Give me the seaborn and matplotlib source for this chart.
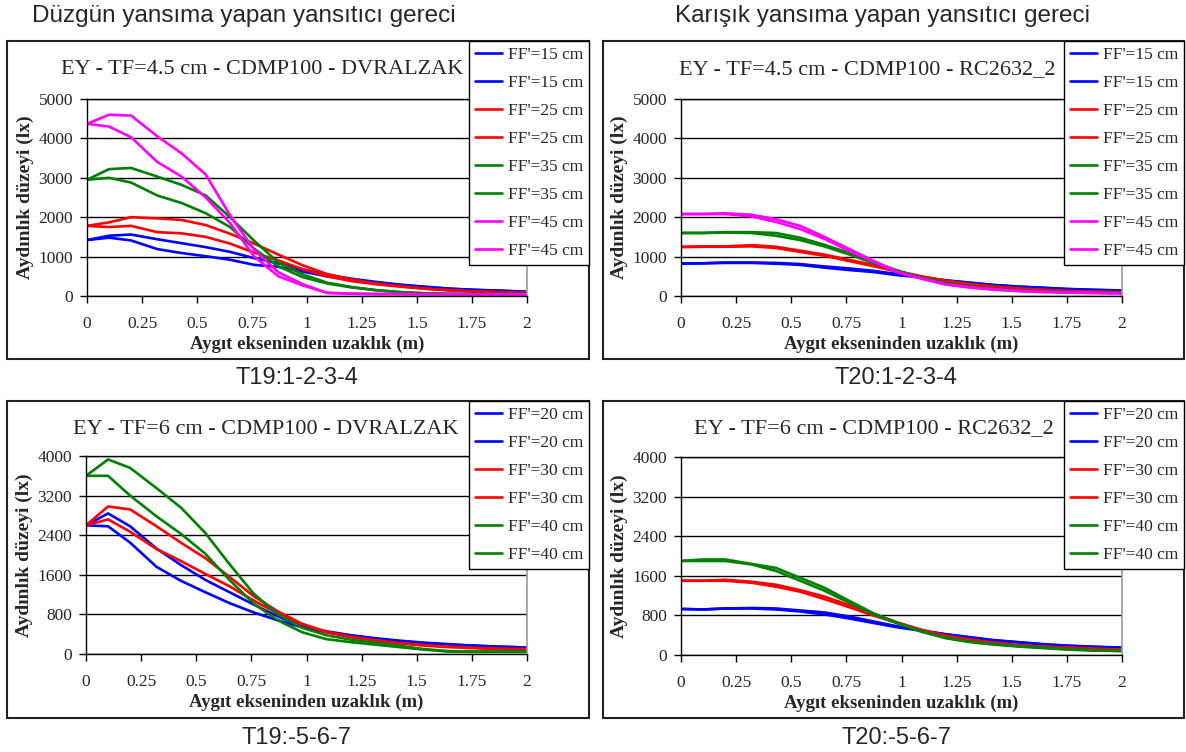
import matplotlib
matplotlib.use("Agg")
import matplotlib.pyplot as plt
import seaborn as sns
import pandas as pd
from matplotlib.patches import Rectangle

# ---------------- data ----------------
x = [0, 0.1, 0.2, 0.32, 0.43, 0.54, 0.65, 0.76, 0.87, 0.98, 1.09, 1.2, 1.31, 1.42, 1.53, 1.64, 1.75, 1.86, 2.0]

# Panel 1: EY - TF=4.5 cm - CDMP100 - DVRALZAK
p1_labels = ["FF'=15 cm", "FF'=15 cm", "FF'=25 cm", "FF'=25 cm",
             "FF'=35 cm", "FF'=35 cm", "FF'=45 cm", "FF'=45 cm"]
p1_b1 = [1420, 1530, 1560, 1440, 1340, 1240, 1120, 960, 830, 680, 540, 440, 360, 290, 240, 190, 160, 140, 110]
p1_b2 = [1420, 1480, 1410, 1190, 1090, 1010, 920, 790, 740, 620, 500, 410, 340, 280, 230, 185, 155, 135, 105]
p1_r1 = [1780, 1870, 2000, 1970, 1930, 1800, 1580, 1330, 1050, 780, 560, 420, 320, 250, 190, 150, 120, 100, 80]
p1_r2 = [1780, 1750, 1780, 1620, 1590, 1500, 1330, 1100, 900, 680, 500, 380, 300, 240, 185, 145, 115, 95, 75]
p1_g1 = [2950, 3220, 3250, 3030, 2820, 2550, 2000, 1400, 850, 550, 340, 230, 150, 100, 70, 55, 50, 50, 50]
p1_g2 = [2950, 3000, 2880, 2550, 2360, 2100, 1750, 1200, 750, 480, 320, 220, 150, 100, 70, 55, 50, 50, 50]
p1_m1 = [4370, 4600, 4580, 4050, 3620, 3080, 2050, 1170, 600, 300, 80, 60, 50, 50, 45, 45, 40, 40, 40]
p1_m2 = [4370, 4300, 4030, 3400, 3030, 2500, 1850, 1000, 500, 270, 80, 60, 50, 50, 45, 45, 40, 40, 40]

# Panel 2: EY - TF=4.5 cm - CDMP100 - RC2632_2
p2_labels = p1_labels
p2_b1 = [830, 830, 850, 850, 840, 810, 750, 700, 640, 560, 480, 400, 340, 280, 240, 210, 180, 160, 140]
p2_b2 = [820, 830, 840, 840, 820, 790, 720, 660, 610, 530, 470, 390, 330, 275, 235, 205, 175, 155, 135]
p2_r1 = [1250, 1260, 1260, 1290, 1250, 1150, 1050, 920, 790, 630, 500, 390, 300, 240, 190, 160, 130, 110, 100]
p2_r2 = [1240, 1250, 1250, 1260, 1220, 1120, 1020, 890, 760, 620, 490, 380, 295, 235, 185, 155, 125, 105, 95]
p2_g1 = [1600, 1600, 1620, 1620, 1600, 1480, 1300, 1100, 870, 650, 470, 330, 240, 180, 140, 120, 100, 90, 80]
p2_g2 = [1600, 1600, 1610, 1600, 1530, 1420, 1260, 1060, 840, 640, 460, 320, 235, 175, 135, 115, 95, 85, 75]
p2_m1 = [2080, 2080, 2100, 2060, 1950, 1780, 1500, 1200, 900, 620, 450, 300, 220, 170, 130, 110, 90, 80, 70]
p2_m2 = [2080, 2080, 2080, 2020, 1880, 1700, 1450, 1150, 880, 600, 440, 290, 215, 160, 125, 100, 85, 75, 65]

# Panel 3: EY - TF=6 cm - CDMP100 - DVRALZAK
p3_labels = ["FF'=20 cm", "FF'=20 cm", "FF'=30 cm", "FF'=30 cm", "FF'=40 cm", "FF'=40 cm"]
p3_b1 = [2600, 2840, 2580, 2130, 1800, 1500, 1250, 1000, 760, 560, 460, 380, 320, 270, 230, 200, 170, 150, 130]
p3_b2 = [2600, 2580, 2250, 1760, 1480, 1250, 1030, 840, 680, 540, 440, 370, 310, 260, 220, 190, 170, 150, 130]
p3_r1 = [2600, 2980, 2920, 2580, 2250, 1940, 1560, 1170, 860, 610, 450, 350, 280, 220, 170, 140, 120, 100, 80]
p3_r2 = [2600, 2720, 2470, 2120, 1880, 1620, 1370, 1080, 820, 600, 440, 340, 270, 220, 180, 150, 130, 110, 100]
p3_g1 = [3600, 3930, 3760, 3350, 2960, 2450, 1820, 1220, 800, 530, 380, 290, 230, 170, 100, 60, 50, 50, 50]
p3_g2 = [3600, 3600, 3200, 2780, 2430, 2030, 1500, 1020, 680, 440, 300, 240, 190, 140, 90, 50, 45, 45, 45]

# Panel 4: EY - TF=6 cm - CDMP100 - RC2632_2
p4_labels = p3_labels
p4_b1 = [930, 920, 940, 950, 940, 900, 860, 780, 680, 580, 500, 420, 360, 300, 260, 220, 190, 170, 150]
p4_b2 = [930, 920, 940, 940, 920, 880, 820, 740, 650, 560, 490, 415, 355, 295, 255, 215, 185, 165, 145]
p4_r1 = [1500, 1500, 1520, 1480, 1420, 1310, 1180, 1010, 830, 660, 510, 390, 310, 250, 200, 170, 150, 130, 110]
p4_r2 = [1500, 1500, 1500, 1460, 1380, 1280, 1130, 970, 800, 650, 500, 385, 305, 245, 195, 165, 145, 125, 105]
p4_g1 = [1900, 1930, 1930, 1840, 1760, 1560, 1360, 1100, 850, 650, 480, 350, 270, 220, 180, 150, 120, 100, 80]
p4_g2 = [1900, 1900, 1900, 1830, 1700, 1500, 1300, 1060, 830, 640, 470, 340, 260, 210, 170, 140, 110, 90, 80]

x_ticks = [0, 0.25, 0.5, 0.75, 1, 1.25, 1.5, 1.75, 2]
x_tick_labels = ["0", "0.25", "0.5", "0.75", "1", "1.25", "1.5", "1.75", "2"]
y_ticks_top = [0, 1000, 2000, 3000, 4000, 5000]
y_ticks_bot = [0, 800, 1600, 2400, 3200, 4000]

titles = ["EY - TF=4.5 cm - CDMP100 - DVRALZAK", "EY - TF=4.5 cm - CDMP100 - RC2632_2",
          "EY - TF=6 cm - CDMP100 - DVRALZAK", "EY - TF=6 cm - CDMP100 - RC2632_2"]
footers = ["T19:1-2-3-4", "T20:1-2-3-4", "T19:-5-6-7", "T20:-5-6-7"]
headers = ["Düzgün yansıma yapan yansıtıcı gereci", "Karışık yansıma yapan yansıtıcı gereci"]
xlabel = "Aygıt ekseninden uzaklık (m)"
ylabel = "Aydınlık düzeyi (lx)"

BLUE, RED, GREEN, MAG = "#0000FF", "#FF0000", "#008000", "#FF00FF"

panels = [
    (p1_labels, [p1_b1, p1_b2, p1_r1, p1_r2, p1_g1, p1_g2, p1_m1, p1_m2],
     [BLUE, BLUE, RED, RED, GREEN, GREEN, MAG, MAG], y_ticks_top),
    (p2_labels, [p2_b1, p2_b2, p2_r1, p2_r2, p2_g1, p2_g2, p2_m1, p2_m2],
     [BLUE, BLUE, RED, RED, GREEN, GREEN, MAG, MAG], y_ticks_top),
    (p3_labels, [p3_b1, p3_b2, p3_r1, p3_r2, p3_g1, p3_g2],
     [BLUE, BLUE, RED, RED, GREEN, GREEN], y_ticks_bot),
    (p4_labels, [p4_b1, p4_b2, p4_r1, p4_r2, p4_g1, p4_g2],
     [BLUE, BLUE, RED, RED, GREEN, GREEN], y_ticks_bot),
]

# ---------------- layout ----------------
W, H = 1186, 752
sns.set_theme(style="white")
plt.rcParams['font.family'] = ['Liberation Serif', 'DejaVu Serif']
fig = plt.figure(figsize=(W / 100, H / 100), dpi=100)
fig.patch.set_facecolor("white")

def fx(px):
    return px / W

def fy(py):
    return 1 - py / H

# axes rectangles in pixel coords (left, right, top, bottom)
ax_px = [(87, 527, 99, 296), (681, 1122, 99, 296), (86, 527, 456, 654), (681, 1122, 457, 655)]
box_px = [(7, 589, 41, 359), (603, 1184, 41, 359), (7, 589, 401, 718), (603, 1184, 401, 718)]
title_px = [(262, 70), (867, 70), (266, 429), (874, 429)]
footer_px = [(297, 378), (896, 378), (297, 738), (896, 738)]

for i, (labels, series, colors, yt) in enumerate(panels):
    bl, br, bt, bb = box_px[i]
    fig.add_artist(Rectangle((fx(bl), fy(bb)), fx(br - bl), (bb - bt) / H,
                             transform=fig.transFigure, fill=False,
                             edgecolor="#222222", linewidth=1.5, zorder=0))
    l, r, t, b = ax_px[i]
    ax = fig.add_axes([fx(l), fy(b), fx(r - l), (b - t) / H])
    for lab, ys, c in zip(labels, series, colors):
        df = pd.DataFrame({"x": x, "y": ys})
        sns.lineplot(data=df, x="x", y="y", color=c, linewidth=1.9, label=lab,
                     ax=ax, estimator=None, sort=False)
    ax.set_xlim(0, 2)
    ax.set_ylim(yt[0], yt[-1])
    ax.set_xticks(x_ticks)
    ax.set_xticklabels(x_tick_labels)
    ax.set_yticks(yt)
    ax.set_yticklabels([str(v) for v in yt])
    ax.yaxis.grid(True, color="black", linewidth=1.0)
    ax.xaxis.grid(False)
    ax.set_axisbelow(True)
    for s in ["left", "bottom", "top"]:
        ax.spines[s].set_color("black")
        ax.spines[s].set_linewidth(1.0)
    ax.spines["right"].set_color("#999999")
    ax.spines["right"].set_linewidth(1.2)
    ax.tick_params(axis="x", direction="out", length=5, width=1, color="black",
                   labelsize=12.5, pad=9.5, bottom=True)
    ax.tick_params(axis="y", direction="out", length=5, width=1, color="black",
                   labelsize=12.5, pad=5, left=True)
    ax.set_xlabel(xlabel, fontsize=13.5, fontweight="bold")
    ax.set_ylabel(ylabel, fontsize=14, fontweight="bold")
    ax.xaxis.set_label_coords(0.5, -0.2)
    ax.yaxis.set_label_coords(-0.12, 0.5)
    leg = ax.legend(loc="upper right", bbox_to_anchor=(fx(br), fy(bt)),
                    bbox_transform=fig.transFigure, borderaxespad=0,
                    frameon=True, fancybox=False, fontsize=12.5,
                    handlelength=1.6, handletextpad=0.3, labelspacing=0.68,
                    borderpad=0.35)
    leg.get_frame().set_edgecolor("black")
    leg.get_frame().set_linewidth(1.0)
    leg.get_frame().set_alpha(1)
    tx, ty = title_px[i]
    fig.text(fx(tx), fy(ty), titles[i], ha="center", va="center", fontsize=16)
    ftx, fty = footer_px[i]
    fig.text(fx(ftx), fy(fty), footers[i], ha="center", va="center", fontsize=17,
             family=["Liberation Sans", "DejaVu Sans"])

fig.text(fx(244), fy(16), headers[0], ha="center", va="center", fontsize=17.5,
         family=["Liberation Sans", "DejaVu Sans"])
fig.text(fx(882), fy(16), headers[1], ha="center", va="center", fontsize=17.5,
         family=["Liberation Sans", "DejaVu Sans"])

fig.savefig("out.png", dpi=100, facecolor="white")
